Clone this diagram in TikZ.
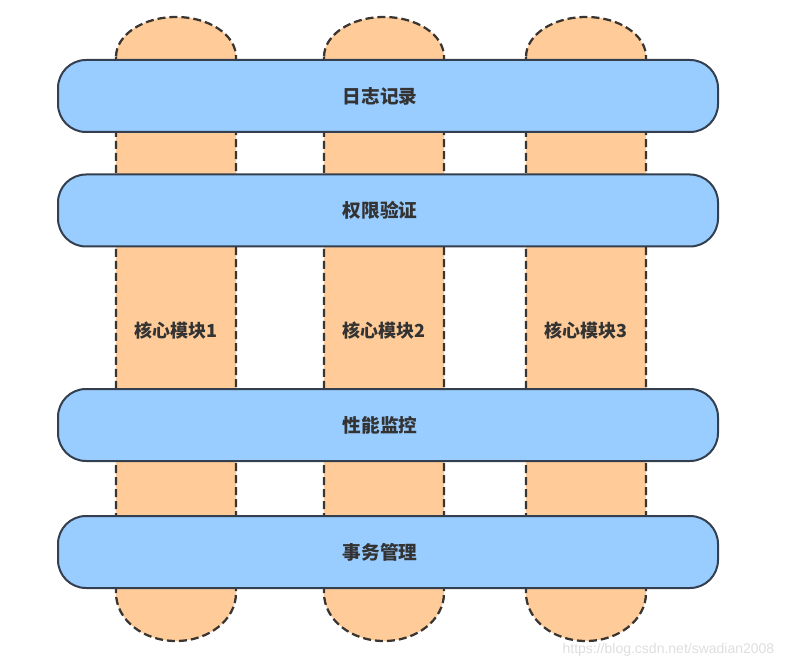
\documentclass[tikz,border=0pt]{standalone}
\usepackage{fontspec}
\setmainfont{Liberation Sans}
\newfontfamily\cjk{Noto Sans CJK SC}
\usetikzlibrary{positioning}
\definecolor{layerfill}{HTML}{99CCFF}
\definecolor{layerline}{HTML}{333F4F}
\definecolor{modfill}{HTML}{FFCC99}
\definecolor{modline}{HTML}{3A3530}
\definecolor{labeltext}{HTML}{333333}

\begin{document}
\begin{tikzpicture}[
        x=0.75pt,
        y=0.75pt,
        layer/.style={
          draw=layerline,
          fill=layerfill,
          line width=1.5pt,
          rounded corners=21pt,
          minimum width=495pt,
          minimum height=54pt,
          label={[layertext, xshift=-6pt]center:#1}
          },
        layertext/.style={
          text=labeltext,
          font=\cjk\bfseries\fontsize{14}{16}\selectfont
          },
        module/.style={
          draw=modline,
          fill=modfill,
          line width=1.7pt,
          dash pattern=on 6pt off 3pt
          },
        modlabel/.style={
          text=labeltext,
          font=\cjk\bfseries\fontsize{13.5}{15}\selectfont
          },
        mark text/.style={
          text=black!13,
          font=\fontsize{10.5}{12}\selectfont
          }
        ]
        \useasboundingbox (0,0) rectangle (788,668);
        % core modules (vertical)
        \foreach \cx [count=\mi] in {176,384,586}
        {
          \draw[module] (\cx-60,611) -- (\cx-60,75)
            arc[start angle=180, end angle=360, x radius=60, y radius=48]
            -- (\cx+60,611)
            arc[start angle=0, end angle=180, x radius=60, y radius=40]
            -- cycle;
          \node[modlabel] (mod\mi) at (\cx,337) {核心模块\mi};
        }
        % cross-cutting layers (horizontal)
        \node[layer=日志记录] (log) at (388,572) {};
        \node[layer=权限验证] (auth) at (388,457.5) {};
        \node[layer=性能监控] (perf) at (388,243) {};
        \node[layer=事务管理] (tx) at (388,116) {};
        \node[mark text, anchor=east] (url) at (779,18) {https://blog.csdn.net/swadian2008};
\end{tikzpicture}
\end{document}
